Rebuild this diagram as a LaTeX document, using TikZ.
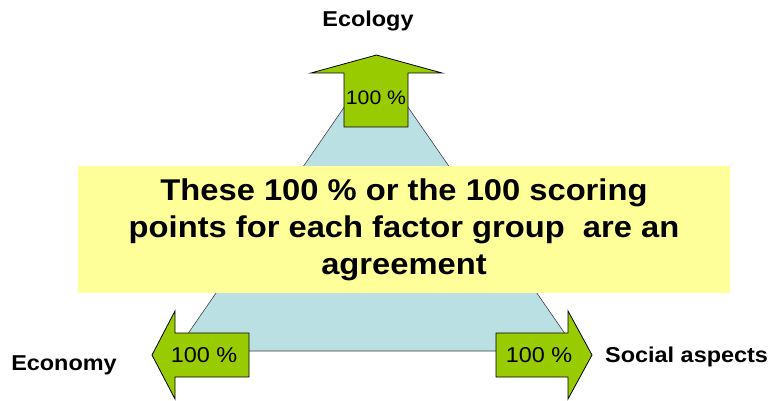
\documentclass[tikz,border=0pt]{standalone}
\usepackage{fontspec}
\setmainfont{Liberation Sans}[FakeStretch=1.09]
\definecolor{leaf}{HTML}{99CC00}
\definecolor{pale}{HTML}{BAE0E3}
\definecolor{note}{HTML}{FFFF99}
\begin{document}
\begin{tikzpicture}[x=1pt,y=-1pt, line join=miter,
	arr/.style={fill=leaf, draw=black, line width=0.8pt},
	pct/.style={anchor=base, inner sep=0pt, font=\fontsize{21.5}{25}\selectfont},
	lbl/.style={anchor=base, inner sep=0pt, font=\bfseries\fontsize{21.5}{25}\selectfont}]
	\useasboundingbox (0,0) rectangle (773,401);
	\def\ax{376} \def\ay{61} \def\by{351} % triangle
	\draw[fill=pale, draw=black!75, line width=0.6pt] (\ax,\ay)--(176,\by)--(577,\by)--cycle;
	\node (box) at (404,229.5) [fill=note, minimum width=652pt, minimum height=127pt, inner sep=0pt,
		align=center, font=\bfseries\fontsize{30}{37}\selectfont]
		{These 100 \% or the 100 scoring\\points for each factor group~ are an\\agreement};
	% arrows
	\draw[arr] (344,127)--(344,73)--(311,73)--(376.5,55)--(442,73)--(408,73)--(408,127)--cycle;
	\draw[arr] (249,333)--(175,333)--(175,311)--(152,355)--(175,399)--(175,377)--(249,377)--cycle;
	\draw[arr] (496,333)--(568,333)--(568,311)--(592,355)--(568,399)--(568,377)--(496,377)--cycle;
	\node[pct, font=\fontsize{19.5}{23}\selectfont] (pEcol) at (376,105) {100 \%};
	\node[pct] (pEcon) at (204,362) {100 \%};
	\node[pct] (pSoc) at (539,362) {100 \%};
	\node[lbl] (ecol) at (368,27) {Ecology};
	\node[lbl] (econ) at (64,370) {Economy};
	\node[lbl, anchor=base west] (soc) at (605,362) {Social aspects};
\end{tikzpicture}
\end{document}
